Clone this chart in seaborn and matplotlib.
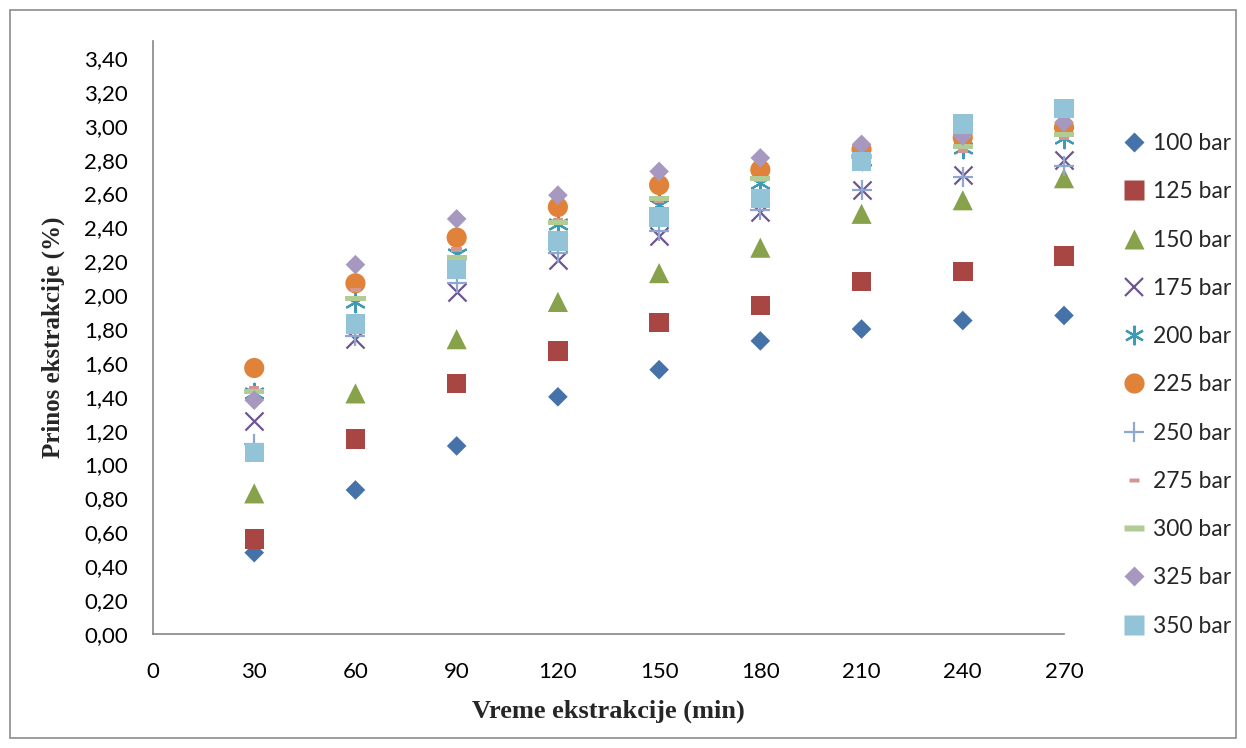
import numpy as np
import pandas as pd
import seaborn as sns
import matplotlib
matplotlib.use("Agg")
import matplotlib.pyplot as plt
from matplotlib.path import Path
from matplotlib.lines import Line2D
from matplotlib.patches import Rectangle
from matplotlib.ticker import FuncFormatter, MultipleLocator

# Extraction time (min)
time_min = [30, 60, 90, 120, 150, 180, 210, 240, 270]

# Extraction yield (%) at each pressure
y_100 = [0.48, 0.85, 1.11, 1.40, 1.56, 1.73, 1.80, 1.85, 1.88]
y_125 = [0.56, 1.15, 1.48, 1.67, 1.84, 1.94, 2.08, 2.14, 2.23]
y_150 = [0.83, 1.42, 1.74, 1.96, 2.13, 2.28, 2.48, 2.56, 2.69]
y_175 = [1.26, 1.74, 2.02, 2.21, 2.35, 2.49, 2.62, 2.71, 2.80]
y_200 = [1.42, 1.96, 2.24, 2.42, 2.53, 2.66, 2.80, 2.87, 2.93]
y_225 = [1.57, 2.07, 2.34, 2.52, 2.65, 2.74, 2.86, 2.93, 2.99]
y_250 = [1.12, 1.76, 2.07, 2.25, 2.38, 2.50, 2.62, 2.70, 2.76]
y_275 = [1.45, 2.03, 2.27, 2.44, 2.56, 2.68, 2.81, 2.85, 2.93]
y_300 = [1.43, 1.98, 2.22, 2.43, 2.57, 2.69, 2.82, 2.88, 2.95]
y_325 = [1.38, 2.18, 2.45, 2.59, 2.73, 2.81, 2.89, 2.94, 3.02]
y_350 = [1.07, 1.83, 2.15, 2.32, 2.46, 2.57, 2.79, 3.01, 3.10]

labels = ["100 bar", "125 bar", "150 bar", "175 bar", "200 bar", "225 bar",
          "250 bar", "275 bar", "300 bar", "325 bar", "350 bar"]
series = [y_100, y_125, y_150, y_175, y_200, y_225,
          y_250, y_275, y_300, y_325, y_350]

colors = ["#4672AA", "#A84644", "#87A24A", "#6E5592", "#3D9CB5", "#E0823A",
          "#8EA7D0", "#D49693", "#B3CC95", "#A698BF", "#92C3D6"]


def bar_marker(h):
    # flat rectangle used as a dash-shaped marker
    return Path([(-0.5, -h / 2), (0.5, -h / 2), (0.5, h / 2), (-0.5, h / 2), (-0.5, -h / 2)],
                [Path.MOVETO, Path.LINETO, Path.LINETO, Path.LINETO, Path.CLOSEPOLY])


short_dash = bar_marker(0.45)
long_dash = bar_marker(0.25)
asterisk = (6, 2, 0)

# marker, size (pt), filled
styles = [
    ("D", 10.0, True),
    ("s", 14.0, True),
    ("^", 14.5, True),
    ("x", 13.0, False),
    (asterisk, 14.0, False),
    ("o", 14.5, True),
    ("+", 14.0, False),
    (short_dash, 7.5, True),
    (long_dash, 14.5, True),
    ("D", 10.0, True),
    ("s", 14.0, True),
]

sns.set_theme(style="white")
plt.rcParams["font.family"] = ["Lato", "DejaVu Sans"]

fig = plt.figure(figsize=(12.46, 7.48), dpi=100)
ax = fig.add_axes([153 / 1246, 1 - 634 / 748, (1064 - 153) / 1246, (634 - 41) / 748])

# outer chart frame
fig.patches.append(Rectangle((10 / 1246, 10 / 748), 1226 / 1246, 728 / 748,
                             transform=fig.transFigure, fill=False,
                             edgecolor="#8C8C8C", linewidth=1.2))

handles = []
for lab, ys, col, (mk, ms, filled) in zip(labels, series, colors, styles):
    df = pd.DataFrame({"t": time_min, "y": ys})
    if filled:
        sns.scatterplot(data=df, x="t", y="y", ax=ax, marker=mk, s=ms ** 2,
                        color=col, edgecolor="none", linewidth=0, clip_on=False)
        handles.append(Line2D([], [], linestyle="none", marker=mk, markersize=ms,
                              markerfacecolor=col, markeredgecolor="none", label=lab))
    else:
        sns.scatterplot(data=df, x="t", y="y", ax=ax, marker=mk, s=ms ** 2,
                        color=col, linewidth=1.6, clip_on=False)
        handles.append(Line2D([], [], linestyle="none", marker=mk, markersize=ms,
                              color=col, markeredgewidth=1.6, label=lab))

ax.set_xlim(0, 270)
ax.set_ylim(0, 3.5)
ax.xaxis.set_major_locator(MultipleLocator(30))
ax.set_yticks(np.arange(0, 3.41, 0.2))
ax.yaxis.set_major_formatter(FuncFormatter(lambda v, p: f"{v:.2f}".replace(".", ",")))

for side in ["top", "right"]:
    ax.spines[side].set_visible(False)
for side in ["left", "bottom"]:
    ax.spines[side].set_color("#868686")
    ax.spines[side].set_linewidth(1.2)
ax.tick_params(axis="both", direction="out", length=6, width=1.2, color="#868686",
               labelsize=16, labelcolor="black")
ax.tick_params(axis="y", pad=12)
ax.tick_params(axis="x", pad=14)
ax.grid(False)

ax.set_xlabel("Vreme ekstrakcije (min)", fontfamily="Liberation Serif",
              fontweight="bold", fontsize=19, labelpad=13)
ax.set_ylabel("Prinos ekstrakcije (%)", fontfamily="Liberation Serif",
              fontweight="bold", fontsize=18, labelpad=14)

fig.legend(handles=handles, loc="upper left", bbox_to_anchor=(1123 / 1246, 1 - 133 / 748),
           frameon=False, fontsize=16.5, labelspacing=1.19, handlelength=1.0,
           handletextpad=0.3, borderpad=0, borderaxespad=0)

fig.savefig("out.png", dpi=100)
